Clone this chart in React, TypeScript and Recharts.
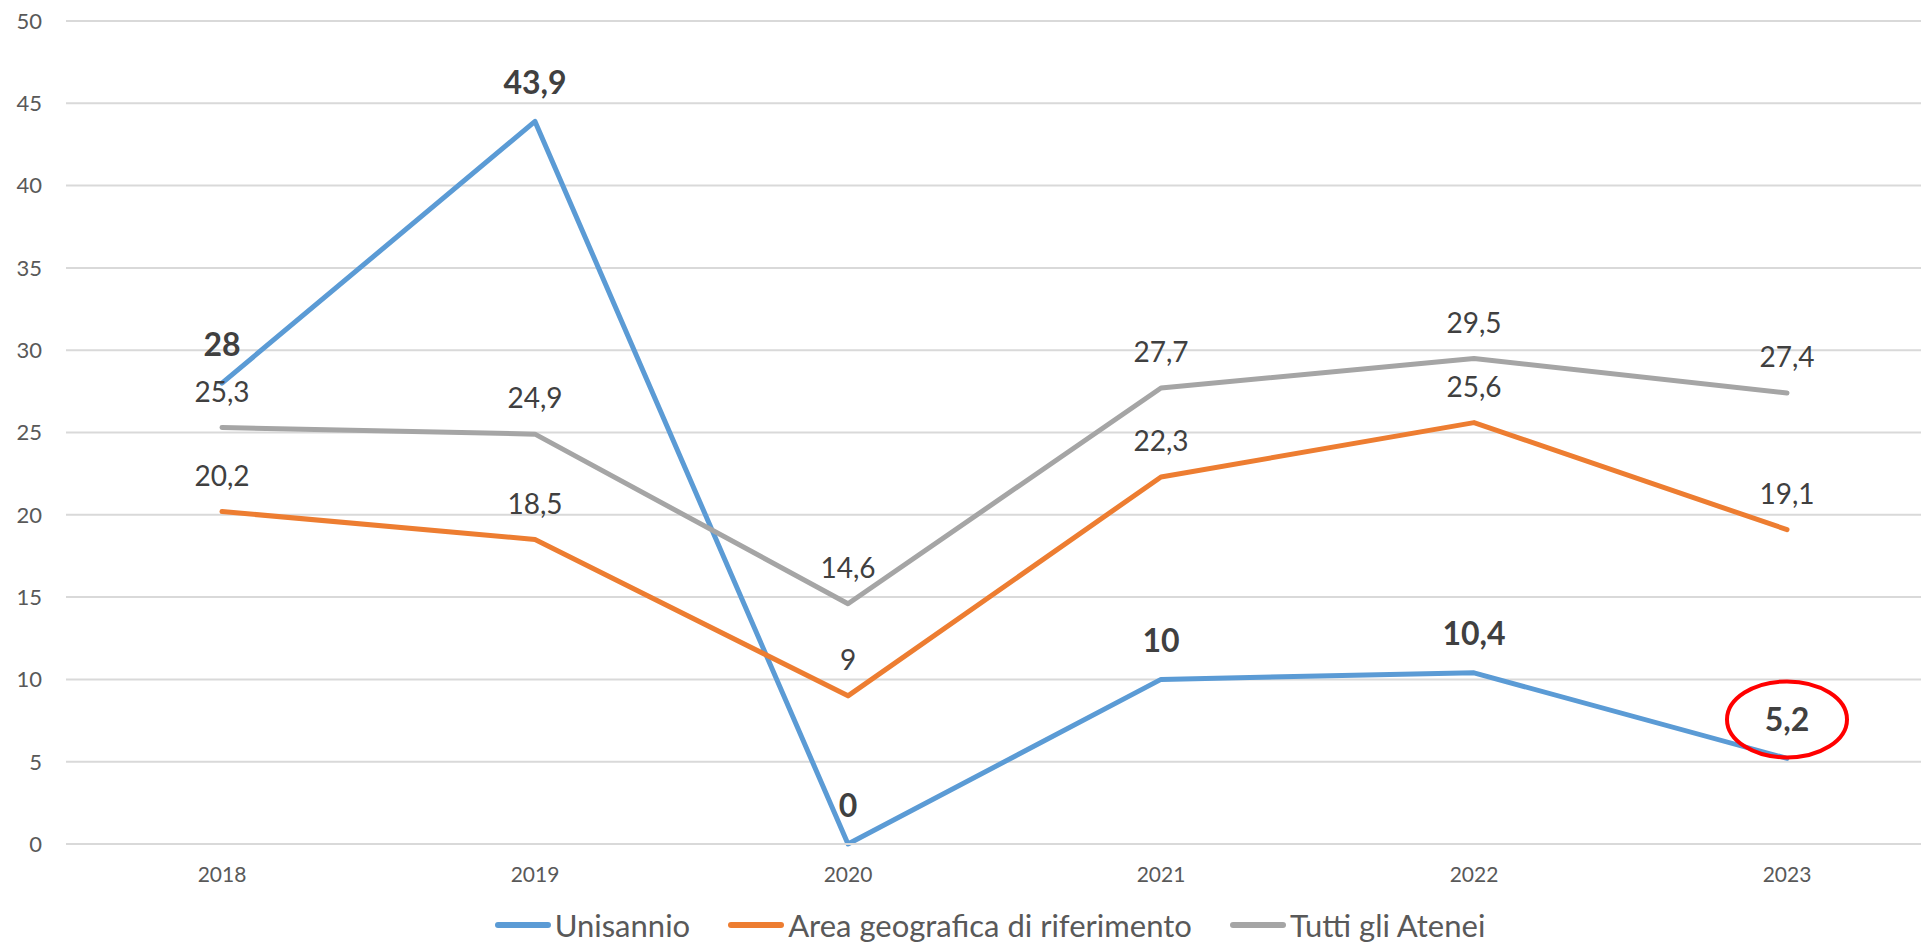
import React from 'react';
import { LineChart, Line, XAxis, YAxis, CartesianGrid, Legend, LabelList } from 'recharts';

const years = ['2018', '2019', '2020', '2021', '2022', '2023'];
const unisannio = [28, 43.9, 0, 10, 10.4, 5.2];
const areaGeo = [20.2, 18.5, 9, 22.3, 25.6, 19.1];
const tuttiAtenei = [25.3, 24.9, 14.6, 27.7, 29.5, 27.4];
const yTicks = [0, 5, 10, 15, 20, 25, 30, 35, 40, 45, 50];
const seriesNames = ['Unisannio', 'Area geografica di riferimento', 'Tutti gli Atenei'];
const highlightIndex = 5;

const data = years.map((y, i) => ({
  year: y,
  uni: unisannio[i],
  area: areaGeo[i],
  tutti: tuttiAtenei[i],
}));

const FONT = 'Lato, "Open Sans", sans-serif';
const fmt = (v: number) => String(v).replace('.', ',');

const BoldLabel = (props: any) => {
  const { x, y, value, index } = props;
  const cy = y - 39;
  return (
    <g>
      <text x={x} y={cy} dy="0.36em" textAnchor="middle" fontFamily={FONT} fontWeight={700} fontSize={32} fill="#404040">
        {fmt(value)}
      </text>
      {index === highlightIndex && (
        <ellipse cx={x} cy={cy} rx={60} ry={38} fill="none" stroke="#FF0000" strokeWidth={4} />
      )}
    </g>
  );
};

const NormalLabel = (props: any) => {
  const { x, y, value } = props;
  return (
    <text x={x} y={y - 36} dy="0.36em" textAnchor="middle" fontFamily={FONT} fontSize={28} fill="#404040">
      {fmt(value)}
    </text>
  );
};

const LegendContent = (props: any) => {
  const payload = [...(props.payload || [])].sort(
    (a: any, b: any) => seriesNames.indexOf(a.value) - seriesNames.indexOf(b.value)
  );
  return (
    <div
      style={{
        display: 'flex',
        justifyContent: 'center',
        alignItems: 'center',
        height: 56,
        paddingTop: 12,
        paddingBottom: 6,
        boxSizing: 'border-box',
        gap: 38,
        fontFamily: FONT,
        fontSize: 31,
        color: '#595959',
      }}
    >
      {payload.map((p: any) => (
        <div key={p.value} style={{ display: 'flex', alignItems: 'center', whiteSpace: 'nowrap' }}>
          <div style={{ width: 56, height: 6, borderRadius: 3, background: p.color, marginRight: 4 }} />
          <span style={{ lineHeight: '36px' }}>{p.value}</span>
        </div>
      ))}
    </div>
  );
};

export default function App() {
  return (
    <div style={{ position: 'fixed', left: 0, top: 0, width: 1921, height: 950, overflow: 'hidden', background: '#fff' }}>
      <LineChart width={1943} height={950} data={data} margin={{ top: 21, right: 0, bottom: 0, left: 0 }}>
        <CartesianGrid vertical={false} stroke="#D9D9D9" strokeWidth={2} />
        <XAxis
          dataKey="year"
          height={50}
          padding={{ left: 156, right: 156 }}
          tickLine={false}
          tickSize={0}
          tickMargin={23}
          axisLine={{ stroke: '#D9D9D9', strokeWidth: 2 }}
          tick={{ fontFamily: FONT, fontSize: 21, fill: '#595959' }}
          interval={0}
        />
        <YAxis
          width={66}
          domain={[0, 50]}
          ticks={yTicks}
          tickLine={false}
          tickSize={0}
          tickMargin={24}
          axisLine={false}
          tick={{ fontFamily: FONT, fontSize: 22, fill: '#595959' }}
          interval={0}
        />
        <Legend
          verticalAlign="bottom"
          wrapperStyle={{ left: 0, width: 1980, height: 56, bottom: 0 }}
          content={<LegendContent />}
        />
        <Line
          type="linear"
          dataKey="uni"
          name={seriesNames[0]}
          stroke="#5B9BD5"
          strokeWidth={5}
          strokeLinecap="round"
          strokeLinejoin="round"
          dot={false}
          activeDot={false}
          isAnimationActive={false}
        >
          <LabelList dataKey="uni" content={<BoldLabel />} />
        </Line>
        <Line
          type="linear"
          dataKey="area"
          name={seriesNames[1]}
          stroke="#ED7D31"
          strokeWidth={5}
          strokeLinecap="round"
          strokeLinejoin="round"
          dot={false}
          activeDot={false}
          isAnimationActive={false}
        >
          <LabelList dataKey="area" content={<NormalLabel />} />
        </Line>
        <Line
          type="linear"
          dataKey="tutti"
          name={seriesNames[2]}
          stroke="#A5A5A5"
          strokeWidth={5}
          strokeLinecap="round"
          strokeLinejoin="round"
          dot={false}
          activeDot={false}
          isAnimationActive={false}
        >
          <LabelList dataKey="tutti" content={<NormalLabel />} />
        </Line>
      </LineChart>
    </div>
  );
}
